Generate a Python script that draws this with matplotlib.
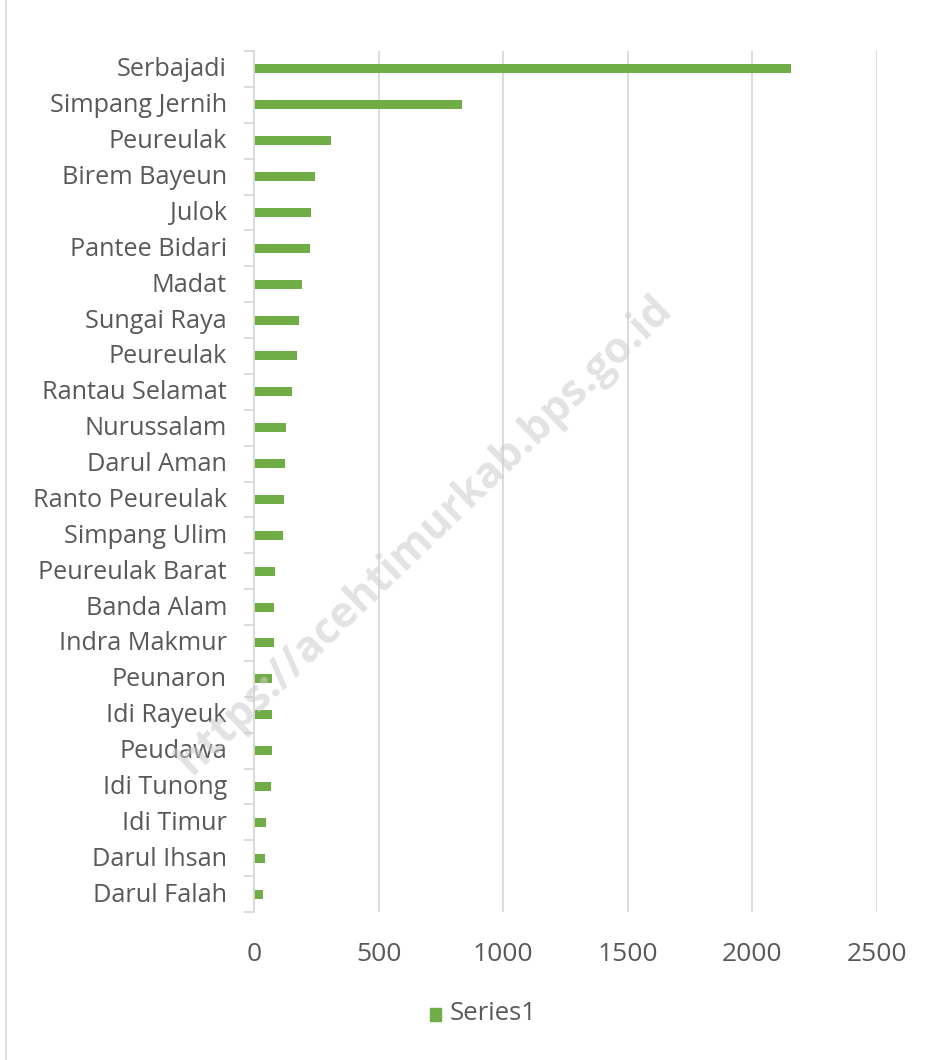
import matplotlib
matplotlib.use("Agg")
import matplotlib.pyplot as plt
from matplotlib.lines import Line2D
from matplotlib.patches import Rectangle
from matplotlib.transforms import ScaledTranslation

categories = ["Serbajadi", "Simpang Jernih", "Peureulak", "Birem Bayeun", "Julok",
              "Pantee Bidari", "Madat", "Sungai Raya", "Peureulak", "Rantau Selamat",
              "Nurussalam", "Darul Aman", "Ranto Peureulak", "Simpang Ulim",
              "Peureulak Barat", "Banda Alam", "Indra Makmur", "Peunaron", "Idi Rayeuk",
              "Peudawa", "Idi Tunong", "Idi Timur", "Darul Ihsan", "Darul Falah"]
values = [2156, 836, 309, 245, 228, 226, 193, 181, 174, 152, 130, 124, 122, 116,
          84, 82, 81, 73, 72, 72, 67, 49, 46, 35]
xticks = [0, 500, 1000, 1500, 2000, 2500]
series_name = "Series1"
watermark = "https://acehtimurkab.bps.go.id"

plt.rcParams['font.family'] = ['Open Sans', 'DejaVu Sans']

W, H = 941, 1060
fig = plt.figure(figsize=(W / 100, H / 100), dpi=100)
ax = fig.add_axes([254 / W, 1 - 912 / H, (877 - 254) / W, (912 - 51) / H])

green = "#70AD47"
grid = "#d9d9d9"
txt = "#595959"

pos = list(range(len(categories)))
ax.barh(pos, values, height=0.25, color=green, zorder=3)
ax.set_ylim(len(categories) - 0.5, -0.5)
ax.set_xlim(0, 2500)
ax.set_yticks(pos)
ax.set_yticklabels(categories, fontsize=18.2, color=txt)
ax.set_xticks(xticks)
ax.set_xticklabels([str(t) for t in xticks], fontsize=19, color=txt)
ax.tick_params(axis='y', length=0, pad=19.5)
ax.tick_params(axis='x', length=0, pad=21.5)

# shift category labels up slightly to centre them on the bars
up = ScaledTranslation(0, 2 / 100, fig.dpi_scale_trans)
for lab in ax.get_yticklabels():
    lab.set_transform(lab.get_transform() + up)

# category boundary ticks
ax.set_yticks([i - 0.5 for i in range(len(categories) + 1)], minor=True)
ax.tick_params(axis='y', which='minor', length=7, width=1.3, color=grid, direction='out')

ax.xaxis.grid(True, color=grid, linewidth=1.3, zorder=0)
ax.set_axisbelow(True)
for s in ["top", "right", "bottom"]:
    ax.spines[s].set_visible(False)
ax.spines["left"].set_color(grid)
ax.spines["left"].set_linewidth(1.3)
ax.spines["left"].set_zorder(4)

# chart border line at left
fig.add_artist(Line2D([6 / W, 6 / W], [0, 1], color=grid, linewidth=1.2))

# legend
fig.add_artist(Rectangle((430 / W, 1 - 1021 / H), 11 / W, 13 / H, color=green,
                         transform=fig.transFigure))
fig.text(450 / W, 1 - 1014 / H, series_name, fontsize=18.5, color=txt,
         va='center', ha='left')

# watermark
fig.text(425 / W, 1 - 535 / H, watermark, fontsize=31, fontweight='bold',
         color="#cccccc", alpha=0.55, rotation=44, ha='center', va='center',
         rotation_mode='anchor')

fig.savefig("out.png", dpi=100)
